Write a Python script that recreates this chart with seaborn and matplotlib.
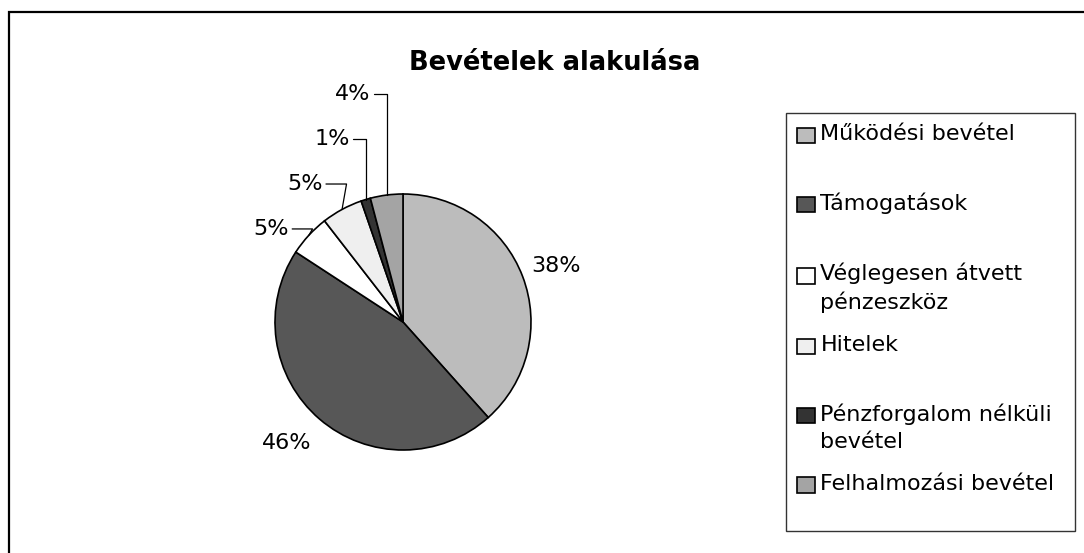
import matplotlib
matplotlib.use("Agg")
import matplotlib.pyplot as plt
import matplotlib.patches as mpatches
from matplotlib.legend_handler import HandlerPatch
import numpy as np
import seaborn as sns

# data (share of revenue, %)
categories = [
    "Működési bevétel",
    "Támogatások",
    "Véglegesen átvett\npénzeszköz",
    "Hitelek",
    "Pénzforgalom nélküli\nbevétel",
    "Felhalmozási bevétel",
]
shares = [38.4, 45.8, 5.3, 5.2, 1.2, 4.1]
slice_colors = ["#bcbcbc", "#575757", "#ffffff", "#efefef", "#333333", "#a4a4a4"]
title = "Bevételek alakulása"

# label layout in pie units (radius = 1)
label_pos = [(1.195, 0.44), (-0.906, -0.945), (-1.03, 0.727),
             (-0.766, 1.078), (-0.555, 1.43), (-0.39, 1.781)]
leader = [None, None, 60, 80, 90, 90]

sns.set_theme(style="white")
plt.rcParams["font.family"] = ["DejaVu Sans"]

W, H = 1084, 553
fig = plt.figure(figsize=(W / 100, H / 100), dpi=100)
fig.patch.set_facecolor("white")

# outer chart border
fig.patches.append(mpatches.Rectangle((9 / W, -0.05), 1.2, 1 - 12 / H + 0.05,
                                      transform=fig.transFigure, fill=False,
                                      edgecolor="black", linewidth=1.6))

cx, cy, r = 403, 322, 128
ax = fig.add_axes([(cx - r) / W, (H - cy - r) / H, 2 * r / W, 2 * r / H])
wedges, _ = ax.pie(shares, colors=slice_colors, startangle=90, counterclock=False,
                   wedgeprops=dict(edgecolor="black", linewidth=1.2))
ax.set_xlim(-1, 1)
ax.set_ylim(-1, 1)
ax.axis("off")

total = sum(shares)
for w, v, pos, ang in zip(wedges, shares, label_pos, leader):
    txt = f"{v / total * 100:.0f}%"
    if ang is None:
        ax.text(pos[0], pos[1], txt, ha="center", va="center", fontsize=16,
                color="black")
        continue
    mid = np.deg2rad((w.theta1 + w.theta2) / 2)
    ax.annotate(txt, xy=(np.cos(mid), np.sin(mid)), xytext=pos,
                ha="center", va="center", fontsize=16, color="black",
                annotation_clip=False,
                arrowprops=dict(arrowstyle="-", color="black", lw=0.9,
                                shrinkA=0, shrinkB=0, relpos=(1, 0.5),
                                connectionstyle=f"angle,angleA=0,angleB={ang},rad=0"))

fig.text(555 / W, 1 - 63 / H, title, ha="center", va="center",
         fontsize=18.5, fontweight="bold", color="black")


def first_line_box(legend, orig_handle, xdescent, ydescent, width, height, fontsize):
    # put the key next to the first line of each label
    return mpatches.Rectangle((-xdescent, -ydescent + 0.55 * fontsize), width, height)


leg_labels = [c if "\n" in c else c + "\n " for c in categories]
leg = fig.legend(wedges, leg_labels, loc="upper left",
                 bbox_to_anchor=(786 / W, 1 - 113 / H - 0.01, 289 / W, 0.01),
                 mode="expand", fontsize=16, frameon=True, fancybox=False,
                 borderpad=0.5, labelspacing=1.0, handlelength=0.8,
                 handleheight=0.7, handletextpad=0.25, borderaxespad=0,
                 labelcolor="black",
                 handler_map={mpatches.Wedge: HandlerPatch(patch_func=first_line_box)})
leg.get_frame().set_edgecolor("black")
leg.get_frame().set_linewidth(1.0)
for t in leg.get_texts():
    t.set_linespacing(1.4)

fig.savefig("out.png", dpi=100)
